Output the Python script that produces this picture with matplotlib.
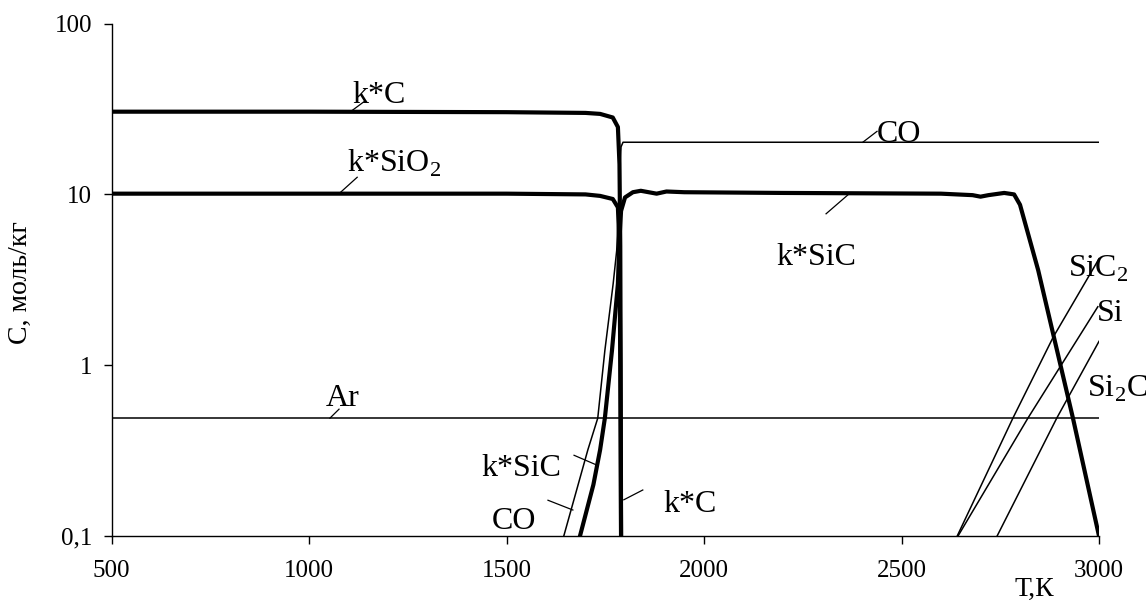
import matplotlib
matplotlib.use('Agg')
from matplotlib import pyplot as plt

plt.rcParams['font.family'] = ['Liberation Serif', 'DejaVu Serif']
plt.rcParams['mathtext.fontset'] = 'custom'
plt.rcParams['mathtext.rm'] = 'Liberation Serif'

# temperature (K) / concentration (mol/kg)
t_kc = [500, 1000, 1500, 1700, 1737, 1769, 1782, 1786, 1788, 1789, 1790]
c_kc = [30.5, 30.5, 30.3, 30.0, 29.6, 28.2, 24.8, 15.0, 5.0, 1.0, 0.1]

t_ksio2 = [500, 1000, 1500, 1700, 1737, 1769, 1782, 1786, 1788, 1790]
c_ksio2 = [10.1, 10.1, 10.1, 10.0, 9.8, 9.4, 8.4, 5.0, 1.0, 0.1]

t_ksic = [1686, 1720, 1737, 1749, 1767, 1782, 1786, 1790, 1800, 1820, 1840, 1880,
          1905, 1950, 2200, 2600, 2680, 2700, 2720, 2760, 2785, 2800, 2846, 2934, 3000]
c_ksic = [0.1, 0.2, 0.32, 0.49, 1.22, 3.0, 5.5, 8.0, 9.6, 10.3, 10.5, 10.1,
          10.4, 10.3, 10.2, 10.1, 9.9, 9.7, 9.9, 10.2, 10.0, 8.7, 3.6, 0.49, 0.1]

t_co = [1645, 1706, 1731, 1749, 1770, 1779, 1786, 1790, 1795, 3000]
c_co = [0.1, 0.32, 0.49, 1.22, 3.0, 4.7, 12.0, 19.0, 20.2, 20.2]

t_ar = [500, 3000]
c_ar = [0.49, 0.49]

t_sic2 = [2641, 2782, 2884, 3000]
c_sic2 = [0.1, 0.49, 1.46, 4.2]

t_si = [2643, 2820, 2997]
c_si = [0.1, 0.49, 2.2]

t_si2c = [2742, 2893, 3000]
c_si2c = [0.1, 0.49, 1.38]

xticks = [500, 1000, 1500, 2000, 2500, 3000]
yticks = [0.1, 1, 10, 100]
ytick_labels = ['0,1', '1', '10', '100']

# label text, text position, leader line (from, to)
labels = [
    ('k*C', (1109, 37.9), 'left', (1105, 30.5), (1140, 35)),
    ('k*SiO$_2$', (1096, 15.2), 'left', (1076, 10.1), (1122, 12.6)),
    ('CO', (2438, 22.4), 'left', (2402, 20.2), (2438, 23.4)),
    ('k*SiC', (2284, 4.28), 'center', (2309, 7.7), (2370, 10.2)),
    ('Ar', (1086, 0.64), 'center', (1053, 0.49), (1076, 0.553)),
    ('k*SiC', (1538, 0.25), 'center', (1671, 0.297), (1729, 0.26)),
    ('CO', (1520, 0.121), 'center', (1605, 0.162), (1668, 0.142)),
    ('k*C', (1896, 0.152), 'left', (1797, 0.163), (1845, 0.186)),
    ('SiC$_2$', (2922, 3.69), 'left', None, None),
    ('Si', (2995, 2.01), 'left', None, None),
    ('Si$_2$C', (2969, 0.73), 'left', None, None),
]

fig = plt.figure(figsize=(11.46, 6.05), dpi=100)
ax = fig.add_axes([0.0973, 0.114, 0.8617, 0.847])

thick = 3.0
thin = 1.1
ax.plot(t_ar, c_ar, color='black', lw=thin)
ax.plot(t_co, c_co, color='black', lw=thin)
ax.plot(t_sic2, c_sic2, color='black', lw=thin)
ax.plot(t_si, c_si, color='black', lw=thin)
ax.plot(t_si2c, c_si2c, color='black', lw=thin)
ax.plot(t_kc, c_kc, color='black', lw=thick)
ax.plot(t_ksio2, c_ksio2, color='black', lw=thick)
ax.plot(t_ksic, c_ksic, color='black', lw=thick)

for txt, pos, ha, p0, p1 in labels:
    ax.text(pos[0], pos[1], txt, fontsize=23, ha=ha, va='center')
    if p0 is not None:
        ax.plot([p0[0], p1[0]], [p0[1], p1[1]], color='black', lw=0.9)

ax.set_yscale('log')
ax.set_xlim(500, 3000)
ax.set_ylim(0.1, 100)
ax.set_xticks(xticks)
ax.set_xticklabels([str(x) for x in xticks])
ax.set_yticks(yticks)
ax.set_yticklabels(ytick_labels)
ax.yaxis.set_minor_locator(matplotlib.ticker.NullLocator())
ax.tick_params(axis='both', direction='out', length=6, width=1, labelsize=18)
ax.tick_params(axis='x', pad=11)
ax.tick_params(axis='y', pad=8)
for s in ['top', 'right']:
    ax.spines[s].set_visible(False)
for s in ['left', 'bottom']:
    ax.spines[s].set_linewidth(1)

ax.set_xlabel('Т,К', fontsize=20, va='top')
ax.xaxis.set_label_coords(0.934, -0.08)
fig.text(20 / 1146, 1 - 283 / 605, 'С, моль/кг', fontsize=20, rotation=90,
         ha='center', va='center')

fig.savefig('out.png', dpi=100)
